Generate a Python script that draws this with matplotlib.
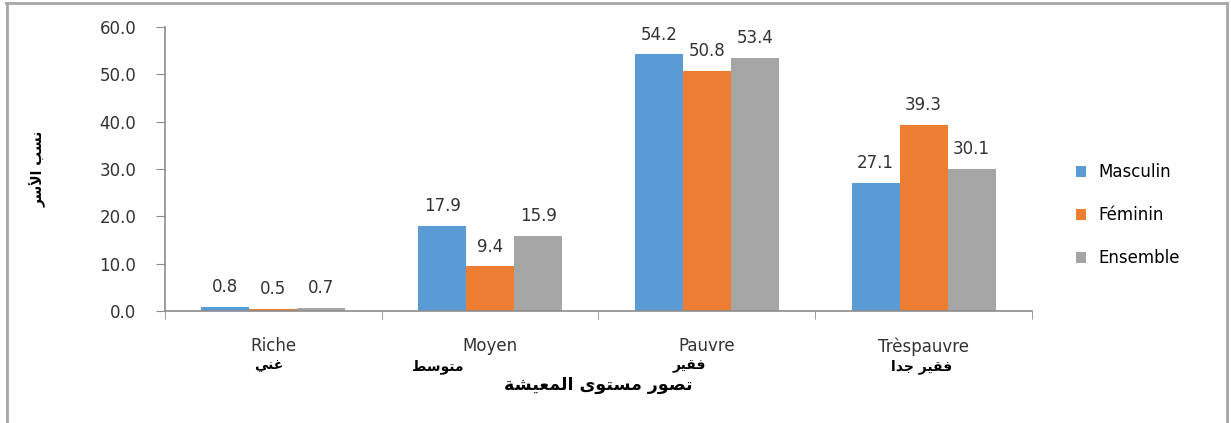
import matplotlib
matplotlib.use("Agg")
import matplotlib.pyplot as plt
from matplotlib.lines import Line2D
import numpy as np

# data
categories = ["Riche", "Moyen", "Pauvre", "Trèspauvre"]
# Arabic sub-labels, written in presentation forms (visual order) so they render joined
categories_ar = ["\uFEF2\uFEE8\uFECF",                         # غني
                 "\uFEC2\uFEB3\uFEEE\uFE98\uFEE3",             # متوسط
                 "\uFEAE\uFEF4\uFED8\uFED3",                   # فقير
                 "\uFE8D\uFEAA\uFE9F \uFEAE\uFEF4\uFED8\uFED3"]  # فقير جدا
series_names = ["Masculin", "Féminin", "Ensemble"]
masculin = [0.8, 17.9, 54.2, 27.1]
feminin = [0.5, 9.4, 50.8, 39.3]
ensemble = [0.7, 15.9, 53.4, 30.1]
xlabel_ar = ("\uFE94\uFEB8\uFEF4\uFECC\uFEE4\uFEDF\uFE8D "
             "\uFEEF\uFEEE\uFE98\uFEB4\uFEE3 "
             "\uFEAD\uFEEE\uFEBC\uFE97")                      # تصور مستوى المعيشة
ylabel_ar = "\uFEAE\uFEB3\uFEF7\uFE8D \uFE90\uFEB4\uFEE7"      # نسب الأسر

colors = ["#5B9BD5", "#ED7D31", "#A5A5A5"]
text_color = "#333333"
axis_color = "#8C8C8C"

fig = plt.figure(figsize=(12.31, 4.23), dpi=100)
ax = fig.add_axes([0.134, 0.2648, 0.7043, 0.6714])

x = np.arange(len(categories))
width = 0.2215
for i, (vals, name) in enumerate(zip([masculin, feminin, ensemble], series_names)):
    pos = x + (i - 1) * width
    bars = ax.bar(pos, vals, width, color=colors[i], label=name)
    for b, v in zip(bars, vals):
        ax.text(b.get_x() + b.get_width() / 2, v + 2.3, f"{v:.1f}",
                ha="center", va="bottom", fontsize=12, color=text_color)

ax.set_xlim(-0.5, len(categories) - 0.5)
ax.set_ylim(0, 60)
ax.set_yticks(np.arange(0, 61, 10))
ax.set_yticklabels([f"{v:.1f}" for v in np.arange(0, 61, 10)])

ax.set_xticks(x)
ax.set_xticklabels(categories)
ax.set_xticks(np.arange(-0.5, len(categories), 1), minor=True)
ax.tick_params(axis="x", which="major", length=0, pad=19, labelsize=12, labelcolor=text_color)
ax.tick_params(axis="x", which="minor", length=6, direction="out", color=axis_color)
ax.tick_params(axis="y", length=6.5, direction="out", color=axis_color, labelsize=12,
               labelcolor=text_color, pad=14)

for s in ["top", "right"]:
    ax.spines[s].set_visible(False)
for s in ["left", "bottom"]:
    ax.spines[s].set_color(axis_color)
    ax.spines[s].set_linewidth(1.2)

# Arabic category labels under the French ones
ar_offsets = [-0.02, -0.24, -0.08, -0.01]
for xi, lab, off in zip(x, categories_ar, ar_offsets):
    ax.text(xi + off, -11.7, lab, ha="center", va="center", fontsize=10,
            fontweight="bold", color="black", family=["DejaVu Sans"])

ax.text(1.5, -15.6, xlabel_ar, ha="center", va="center", fontsize=12.5,
        fontweight="bold", color="black", family=["DejaVu Sans"])
ax.set_ylabel(ylabel_ar, fontsize=10, fontweight="bold")
ax.yaxis.set_label_coords(-0.137, 0.5)

leg = ax.legend(loc="center left", bbox_to_anchor=(1.033, 0.338), frameon=False,
                fontsize=12, handlelength=0.65, handleheight=0.65, labelspacing=1.5,
                handletextpad=0.7)
for t in leg.get_texts():
    t.set_color("black")

# outer frame like the reference
frame_color = "#A6A6A6"
fig.add_artist(Line2D([0.005, 0.997], [0.993, 0.993], transform=fig.transFigure,
                      color=frame_color, lw=2))
fig.add_artist(Line2D([0.006, 0.006], [0.0, 0.993], transform=fig.transFigure,
                      color=frame_color, lw=2))
fig.add_artist(Line2D([0.997, 0.997], [0.0, 0.993], transform=fig.transFigure,
                      color=frame_color, lw=2))

fig.savefig("out.png", dpi=100)
